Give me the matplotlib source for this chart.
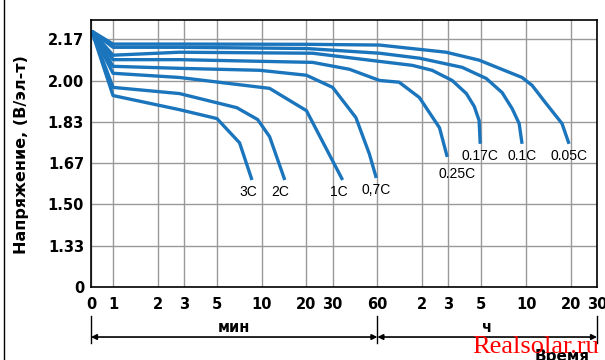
import matplotlib
matplotlib.use('Agg')
import matplotlib.pyplot as plt
from matplotlib.lines import Line2D

# время разряда в минутах, напряжение в В/эл-т
t_3c = [0.72, 1.0, 2.8, 5.0, 7.1, 8.6]
u_3c = [2.20, 1.94, 1.883, 1.847, 1.749, 1.599]

t_2c = [0.72, 1.0, 2.8, 6.8, 9.4, 11.3, 14.3]
u_2c = [2.20, 1.973, 1.948, 1.891, 1.843, 1.774, 1.599]

t_1c = [0.72, 1.0, 2.8, 11.3, 20, 35]
u_1c = [2.20, 2.030, 2.013, 1.969, 1.879, 1.599]

t_07c = [0.72, 1.0, 2.8, 9.7, 20, 30, 43, 53, 59]
u_07c = [2.20, 2.058, 2.050, 2.042, 2.022, 1.973, 1.851, 1.704, 1.607]

t_025c = [0.72, 1.0, 2.8, 22, 39, 62, 84, 115, 157, 177]
u_025c = [2.20, 2.085, 2.085, 2.074, 2.046, 2.001, 1.994, 1.932, 1.810, 1.692]

t_017c = [0.72, 1.0, 2.8, 22, 62, 103, 140, 191, 238, 269, 290, 295]
u_017c = [2.20, 2.103, 2.115, 2.111, 2.078, 2.062, 2.042, 2.001, 1.948, 1.896, 1.839, 1.745]

t_01c = [0.72, 1.0, 2.8, 20, 62, 115, 223, 324, 414, 484, 539, 564]
u_01c = [2.20, 2.135, 2.135, 2.13, 2.111, 2.091, 2.054, 2.009, 1.952, 1.887, 1.827, 1.745]

t_005c = [0.72, 1.0, 2.8, 20, 62, 174, 290, 564, 659, 818, 1047, 1167]
u_005c = [2.20, 2.148, 2.148, 2.147, 2.144, 2.115, 2.083, 2.013, 1.981, 1.908, 1.827, 1.745]

curves = [
    ('3C', t_3c, u_3c),
    ('2C', t_2c, u_2c),
    ('1C', t_1c, u_1c),
    ('0,7C', t_07c, u_07c),
    ('0.25C', t_025c, u_025c),
    ('0.17C', t_017c, u_017c),
    ('0.1C', t_01c, u_01c),
    ('0.05C', t_005c, u_005c),
]

x_ticks = [0.711, 1, 2, 3, 5, 10, 20, 30, 60, 120, 180, 300, 600, 1200, 1800]
x_labels = ['0', '1', '2', '3', '5', '10', '20', '30', '60', '2', '3', '5', '10', '20', '30']
y_ticks = [1.1667, 1.3333, 1.5, 1.6667, 1.8333, 2.0, 2.1667]
y_labels = ['0', '1.33', '1.50', '1.67', '1.83', '2.00', '2.17']

blue = '#1b75bc'

fig = plt.figure(figsize=(6.05, 3.6), dpi=100)
ax = fig.add_axes([91 / 605, 1 - 287 / 360, 506 / 605, 267.5 / 360])

ax.set_xscale('log')
ax.set_xlim(0.711, 1800)
ax.set_ylim(1.1667, 2.2472)
ax.set_xticks(x_ticks)
ax.set_xticklabels(x_labels)
ax.xaxis.set_minor_locator(matplotlib.ticker.NullLocator())
ax.set_yticks(y_ticks)
ax.set_yticklabels(y_labels)
ax.tick_params(length=0, labelsize=10.5, pad=5)
ax.tick_params(axis='x', pad=7)
for lab in ax.get_xticklabels() + ax.get_yticklabels():
    lab.set_fontweight('bold')
ax.grid(True, color='#999999', lw=1.0)
ax.set_axisbelow(True)
for s in ax.spines.values():
    s.set_color('black')
    s.set_linewidth(1.2)

for name, t, u in curves:
    ax.plot(t, u, color=blue, lw=2.4, solid_capstyle='butt', solid_joinstyle='round')

# подписи токов разряда под концами кривых
for name, t, u in curves:
    dx = 0
    dy = -8.5
    if name == '0.25C':
        dx, dy = 7, -12.5
    if name in ('3C', '2C', '1C'):
        dx = -3
    ax.annotate(name, xy=(t[-1], u[-1]), xytext=(dx, dy), textcoords='offset points',
                ha='center', va='center', fontsize=10, family='Liberation Sans')

# шкала времени под осью
tr = ax.get_xaxis_transform()
for xv in (0.711, 60, 1800):
    ax.add_line(Line2D([xv, xv], [-0.108, -0.209], transform=tr, color='k', lw=1.0, clip_on=False))
arrow = dict(arrowstyle='<|-|>', color='k', lw=1.2, shrinkA=0, shrinkB=0, mutation_scale=8)
ax.annotate('', xy=(60, -0.187), xytext=(0.711, -0.187), xycoords=tr, textcoords=tr, arrowprops=arrow)
ax.annotate('', xy=(1800, -0.187), xytext=(60, -0.187), xycoords=tr, textcoords=tr, arrowprops=arrow)
ax.text(6.5, -0.153, 'мин', transform=tr, ha='center', va='center', fontsize=10.5, fontweight='bold')
ax.text(330, -0.153, 'ч', transform=tr, ha='center', va='center', fontsize=10.5, fontweight='bold')

fig.text(562 / 605, 1 - 356 / 360, 'Время', ha='center', va='center', fontsize=11, fontweight='bold')
fig.text(536 / 605, 1 - 347 / 360, 'Realsolar.ru', ha='center', va='center', fontsize=19,
         family='Liberation Serif', color='red')

fig.text(22 / 605, 1 - 155 / 360, 'Напряжение, (В/эл-т)', rotation=90, ha='center', va='center',
         fontsize=11.5, fontweight='bold')

fig.add_artist(Line2D([3.5 / 605, 3.5 / 605], [0, 1], color='k', lw=1.0))

fig.savefig('out.png', dpi=100)
